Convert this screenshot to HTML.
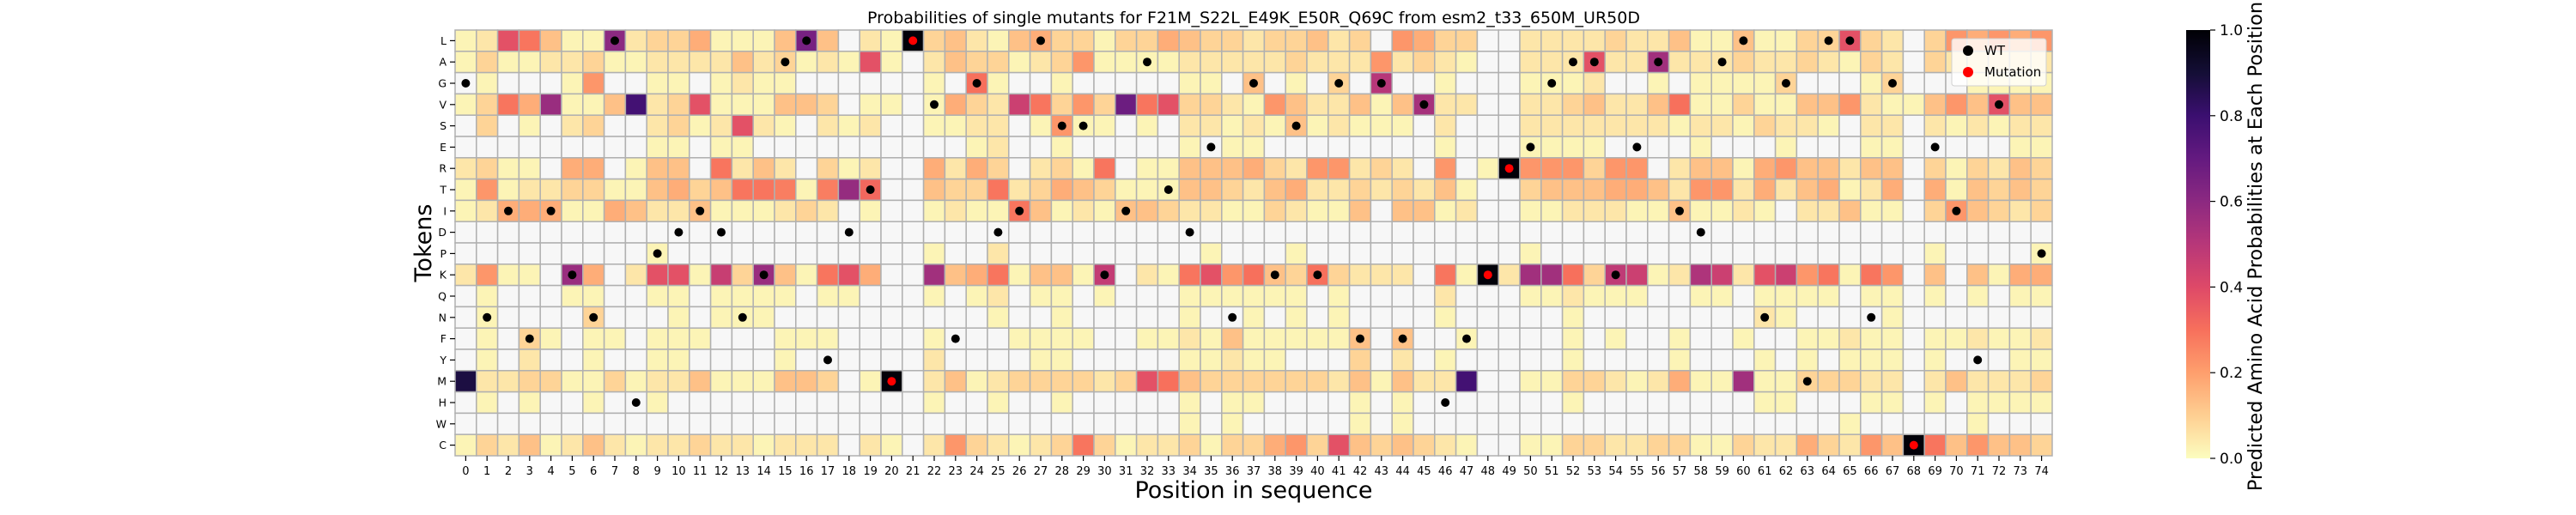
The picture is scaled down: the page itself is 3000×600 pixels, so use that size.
<!DOCTYPE html>
<html><head><meta charset="utf-8"><style>
html,body{margin:0;padding:0;background:#fff;}
svg{display:block;font-family:"DejaVu Sans","Liberation Sans",sans-serif;}
</style></head><body>
<svg id="chart" width="3000" height="600" viewBox="0 0 3000 600" xmlns="http://www.w3.org/2000/svg">
<rect x="0" y="0" width="3000" height="600" fill="#fff"/>
<text x="1460" y="27" text-anchor="middle" font-size="19" fill="#000">Probabilities of single mutants for F21M_S22L_E49K_E50R_Q69C from esm2_t33_650M_UR50D</text>
<g id="cells"></g>
<g id="dots"></g>
<g id="xaxis"></g>
<g id="yaxis"></g>
<text x="1460" y="580" text-anchor="middle" font-size="27" fill="#000">Position in sequence</text>
<text transform="translate(502,283) rotate(-90)" text-anchor="middle" font-size="27" fill="#000">Tokens</text>
<defs><linearGradient id="cmap" x1="0" y1="1" x2="0" y2="0">
<stop offset="0" stop-color="#fcfdbf"/><stop offset="0.1" stop-color="#fecf92"/><stop offset="0.2" stop-color="#fe9f6d"/><stop offset="0.3" stop-color="#f7705c"/><stop offset="0.4" stop-color="#de4968"/><stop offset="0.5" stop-color="#b73779"/><stop offset="0.6" stop-color="#8c2981"/><stop offset="0.7" stop-color="#641a80"/><stop offset="0.8" stop-color="#3b0f70"/><stop offset="0.9" stop-color="#140e36"/><stop offset="1" stop-color="#000004"/>
</linearGradient></defs>
<rect x="2546" y="35" width="28" height="499" fill="url(#cmap)"/>
<g id="cbticks"></g>
<text transform="translate(2634,287) rotate(-90)" text-anchor="middle" font-size="22.5" fill="#000">Predicted Amino Acid Probabilities at Each Position</text>
<g>
<rect x="2273" y="45" width="110" height="55" rx="3" fill="#fff" fill-opacity="0.8" stroke="#d0d0d0"/>
<circle cx="2292" cy="59" r="6" fill="#000"/>
<text x="2311" y="64" font-size="15" fill="#000">WT</text>
<circle cx="2292" cy="84" r="6" fill="#f00"/>
<text x="2311" y="89" font-size="15" fill="#000">Mutation</text>
</g>
</svg>
<script>
const tokens = ["L","A","G","V","S","E","R","T","I","D","P","K","Q","N","F","Y","M","H","W","C"];
const n = null;
const rowL = [.02,.05,.38,.29,.13,.02,.02,.6,.05,.09,.09,.17,.02,.02,.02,.13,.65,.13,n,.05,.02,.99,.09,.13,.05, .02,.13,.17,.09,.09,.02,.09,.09,.17,.13,.09,.09,.05,.09,.09,.13,.05,.09,n,.22,.17,.09,.09,n,n, .05,.05,.05,.05,.09,.05,.05,.13,.02,.02,.13,.02,.02,.09,.09,.38,.09,.05,n,.09,.22,.17,.22,.17,.22];
const rowA = [.02,.09,.02,.02,.05,.05,.09,.02,.02,.05,.05,.05,.05,.13,.05,.09,.02,.05,.02,.38,.02,n,.05,.13,.09, .09,.02,.05,.09,.22,.02,.02,.02,.02,.05,.05,.05,.05,.05,.09,.05,.05,.05,.22,.05,.09,.05,.02,n,n, .05,.05,.05,.38,.05,.05,.55,.05,.05,.05,.09,.05,.05,.09,.05,.02,.09,.05,n,.09,.05,.05,.05,.05,.05];
const rowG = [n,.02,n,n,n,.02,.22,n,n,.02,.02,n,.02,.05,.02,.02,n,n,n,n,n,n,.02,n,.3, .02,n,n,.02,n,n,n,n,n,.02,.02,n,.13,n,.02,n,.09,n,.5,n,n,.02,n,n,n, .02,.02,.02,.05,n,n,.02,n,.02,.02,.02,.02,.09,n,n,n,.02,.09,n,n,n,.02,.02,.02,.02];
const rowV = [.02,.09,.29,.17,.57,.02,.02,.13,.78,.05,.09,.38,.02,.02,.02,.13,.13,.09,n,.02,.02,n,.02,.17,.09, .05,.45,.29,.09,.22,.09,.68,.29,.38,.09,.09,.05,.02,.22,.13,.05,.05,.13,.02,.13,.54,.05,.05,n,n, .05,.05,.09,.13,.05,.05,.13,.3,.02,.02,.09,.02,.02,.13,.13,.22,.05,.02,.02,.13,.22,.13,.38,.13,.13];
const rowS = [n,.09,n,.02,n,.05,.09,n,n,.05,.09,.02,.05,.38,.05,.02,n,.05,.02,.05,n,n,.02,.02,.05, .05,n,.02,.22,.02,.02,n,.02,n,.05,.05,.02,.05,.02,.13,.02,.05,.02,.02,.02,n,.05,n,n,n, .05,.05,.05,.05,.05,.05,.05,.02,.05,.05,.02,.09,.05,.05,.02,n,.05,.05,n,.05,.02,.05,.02,.05,.05];
const rowE = [n,n,n,n,n,n,n,n,n,.02,.02,n,.02,.02,n,n,n,n,n,n,n,n,n,n,.02, .05,n,n,.02,n,n,n,n,n,.02,n,.02,.02,n,n,n,n,n,n,n,n,.02,n,n,n, .02,.02,.02,.02,n,n,n,n,.02,n,n,n,.02,n,n,n,.02,.02,n,n,n,n,n,.02,.02];
const rowR = [.05,.09,.02,.02,n,.17,.17,n,.02,.13,.13,n,.29,.05,.13,.05,n,.09,.02,.05,n,n,.17,.05,.17, .09,n,.05,.09,.02,.29,n,.02,.02,.13,.13,.13,.17,.09,.05,.22,.22,.05,.09,.05,n,.22,n,.02,.99, .22,.22,.22,.09,.22,.22,n,.05,.13,.13,.02,.17,.22,.13,.13,.05,.13,.13,n,.09,.02,.09,.05,.13,.09];
const rowT = [.02,.22,.02,.05,.05,.09,.09,.02,.02,.13,.17,.09,.13,.29,.29,.27,.02,.27,.58,.32,n,n,.13,.09,.09, .29,.05,.09,.17,.13,.09,.02,.02,.02,.13,.13,.09,.05,.13,.17,.05,.05,.09,.05,.09,.05,.13,.02,n,n, .09,.13,.13,.13,.17,.17,.13,.05,.22,.22,.05,.17,.05,.13,.17,.02,.05,.17,n,.17,.02,.13,.09,.13,.09];
const rowI = [.02,.05,.17,.17,.17,.02,.02,.17,.13,.05,.05,.13,.02,.02,.02,.05,.09,.05,n,.02,n,n,.02,.05,.02, .02,.29,.13,.02,.05,.02,.13,.13,.09,.05,.05,.02,.02,.09,.05,.02,.02,.13,n,.13,.13,.02,.05,n,n, .02,.02,.05,.05,.05,.02,.02,.13,.02,.02,.05,.02,n,.05,.05,.13,.02,.02,n,.09,.22,.13,.09,.05,.09];
const rowD = [n,n,n,n,n,n,n,n,n,n,n,n,n,n,n,n,n,n,n,n,n,n,n,n,n, n,n,n,n,n,n,n,n,n,n,n,n,n,n,n,n,n,n,n,n,n,n,n,n,n, n,n,n,n,n,n,n,n,n,n,n,n,n,n,n,n,n,n,n,n,n,n,n,n,n];
const rowP = [n,n,n,n,n,n,n,n,n,.02,n,n,n,n,n,n,n,n,n,n,n,n,.02,n,n, .05,n,n,n,n,n,n,n,n,n,.02,n,n,n,.02,n,n,n,n,n,n,n,n,n,n, .02,n,n,n,n,n,n,n,n,n,n,n,n,n,n,n,n,n,n,.02,n,n,n,n,.02];
const rowK = [.05,.22,.02,.02,n,.57,.17,n,.05,.38,.38,.02,.46,.09,.57,.13,.02,.29,.38,.17,n,n,.55,.13,.17, .29,.02,.13,.13,.02,.47,n,.05,.02,.29,.38,.22,.3,.13,.09,.3,.09,.05,.05,.05,n,.29,.02,.99,.05, .55,.55,.3,.09,.48,.45,.02,.05,.52,.45,.05,.38,.45,.22,.29,.02,.29,.22,n,.13,n,.13,.02,.17,.17];
const rowQ = [n,.02,n,n,n,.02,.02,n,n,.02,.02,n,.02,.02,.02,.02,n,.02,.02,n,n,n,.02,n,.02, .05,n,.02,.02,n,.02,n,n,n,.02,.02,.02,.02,.02,.02,n,.02,n,n,n,n,.05,n,n,n, .02,.02,.05,.02,.02,.02,n,n,.02,.02,n,.02,.02,.02,.02,n,.02,.02,n,.02,n,.02,n,.02,.02];
const rowN = [n,.02,n,n,n,n,.09,n,n,n,.02,n,.02,.02,.02,n,n,n,n,n,n,n,n,n,n, .02,n,n,.02,n,n,n,n,n,.02,n,n,.02,n,.02,n,.02,n,n,n,n,.02,n,n,n, n,n,.02,n,n,n,n,n,n,n,n,.05,.02,n,n,n,n,.02,n,n,n,n,n,n,n];
const rowF = [n,.02,n,.09,.02,n,.02,.02,n,.02,.02,.02,n,n,n,.02,.02,.02,n,n,n,n,.02,n,n, n,.02,.02,.02,.02,n,n,.02,.02,.05,.02,.13,.02,.02,.02,.02,.02,.13,n,.13,n,n,.02,n,n, n,n,.02,n,.02,n,n,.02,n,n,.02,n,n,.02,.02,.05,.02,.02,n,.02,.02,.05,.02,.02,.05];
const rowY = [n,.02,n,.05,n,n,.02,n,n,.02,.02,n,n,n,n,.02,n,n,n,n,n,n,.05,n,n, n,n,.02,.02,n,n,n,n,n,.02,.02,.05,.02,.02,n,n,n,.09,n,.05,n,.02,n,n,n, n,n,.02,n,n,n,n,.02,n,n,n,.02,n,.02,n,.02,.02,.02,n,.02,n,n,n,.02,.02];
const rowM = [.88,.05,.05,.09,.09,.02,.02,.09,.02,.05,.05,.13,.02,.02,.02,.13,.13,.09,n,.02,.99,n,.05,.13,.02, .05,.09,.09,.09,.09,.05,.09,.38,.3,.13,.09,.09,.09,.09,.09,.09,.05,.13,.02,.13,.05,.05,.78,n,n, .02,.02,.09,.09,.05,.02,.05,.17,.02,.02,.55,.02,.02,.09,.09,.09,.05,.05,n,.05,.13,.05,.05,.05,.09];
const rowH = [n,.02,n,.02,n,n,.02,n,n,.02,n,n,n,n,n,n,n,n,n,n,n,n,.02,n,n, .02,n,n,.02,n,n,n,n,n,.02,n,.02,.02,n,n,n,n,.02,n,.02,n,n,n,n,n, n,n,.02,n,n,n,n,n,n,n,n,.02,.02,n,n,n,.02,.02,n,.02,n,.02,.02,.02,.02];
const rowW = [n,n,n,n,n,n,n,n,n,n,n,n,n,n,n,n,n,n,n,n,n,n,n,n,n, n,n,n,n,n,n,n,n,n,.02,n,.02,n,n,n,n,n,.02,n,.02,n,n,n,n,n, n,n,n,n,n,n,n,n,n,n,n,n,n,n,n,.02,n,n,n,n,n,.02,n,n,n];
const rowC = [.02,.09,.05,.13,.02,.05,.13,.05,.02,.05,.05,.09,.05,.05,.02,.05,.05,.05,n,.05,.02,n,.05,.22,.09, .05,.02,.05,.09,.29,.09,.02,.05,.05,.09,.02,.09,.09,.17,.22,.09,.38,.13,.09,.13,.09,.05,.02,n,n, .02,.02,.09,.09,.05,.05,.09,.09,.02,.02,.09,.05,.05,.17,.09,.05,.22,.13,.99,.29,.13,.22,.13,.13,.09];
const values = [rowL,rowA,rowG,rowV,rowS,rowE,rowR,rowT,rowI,rowD,rowP,rowK,rowQ,rowN,rowF,rowY,rowM,rowH,rowW,rowC];
const wtTokens = ["G","N","I","F","I","K","N","L","H","P","D","I","D","N","K","A","L","Y","D","T",null,null,"V","F","G","D","I","L","S","S","K","I","A","T","D","E","N","G","K","S","K","G","F","G","F","V","H","F",null,null,"E","G","A","A","K","E","A","I","D","A","L","N","G","M","L","L","N","G",null,"E","I","Y","V",null,"P"];
const mutPositions = [20,21,48,49,68];
const mutTokens = ["M","L","K","R","C"];
const cbTicks = [0,0.2,0.4,0.6,0.8,1.0];
const cbTickLabels = ["0.0","0.2","0.4","0.6","0.8","1.0"];

const NS="http://www.w3.org/2000/svg";
const X0=530, CW=24.8, Y0=35, RH=24.8, CB_TOP=35, CB_H=499;
function xScale(i){return X0+i*CW;}
function yScale(r){return Y0+r*RH;}
function cbScale(v){return CB_TOP+CB_H*(1-v);}
const stops=[[0,[252,253,191]],[0.1,[254,207,146]],[0.2,[254,159,109]],[0.3,[247,112,92]],[0.4,[222,73,104]],[0.5,[183,55,121]],[0.6,[140,41,129]],[0.7,[100,26,128]],[0.8,[59,15,112]],[0.9,[20,14,54]],[1,[0,0,4]]];
function cmap(v){
  v=Math.max(0,Math.min(1,v));
  for(let i=1;i<stops.length;i++){
    if(v<=stops[i][0]){const a=stops[i-1],b=stops[i];const t=(v-a[0])/(b[0]-a[0]);
      const c=a[1].map((x,k)=>Math.round(x+(b[1][k]-x)*t));return "rgb("+c.join(",")+")";}
  }
  return "rgb(0,0,4)";
}
function mk(tag,attrs){const e=document.createElementNS(NS,tag);for(const k in attrs)e.setAttribute(k,attrs[k]);return e;}
const gc=document.getElementById("cells");
values.forEach((row,r)=>{row.forEach((v,c)=>{
  const rect=mk("rect",{x:xScale(c),y:yScale(r),width:CW,height:RH,fill:v===null?"#f7f7f7":cmap(v),stroke:"#b0b0b0","stroke-width":1.5});
  
  
  gc.appendChild(rect);
});});
const gd=document.getElementById("dots");
wtTokens.forEach((t,c)=>{ if(t===null) return;
  const r=tokens.indexOf(t);
  const d=mk("circle",{cx:xScale(c)+CW/2,cy:yScale(r)+RH/2,r:5,fill:"#000"});
  
  
  gd.appendChild(d);
});
mutPositions.forEach((c,i)=>{
  const r=tokens.indexOf(mutTokens[i]);
  const d=mk("circle",{cx:xScale(c)+CW/2,cy:yScale(r)+RH/2,r:5,fill:"#f00"});
  
  
  gd.appendChild(d);
});
const gx=document.getElementById("xaxis");
for(let c=0;c<75;c++){
  const cx=xScale(c)+CW/2;
  const tk=mk("line",{x1:cx,y1:Y0+20*RH,x2:cx,y2:Y0+20*RH+6,stroke:"#000","stroke-width":1.2});
  
  
  gx.appendChild(tk);
  const tx=mk("text",{x:cx,y:553,"text-anchor":"middle","font-size":13,fill:"#000"});
  tx.textContent=String(c);
  
  
  gx.appendChild(tx);
}
const gy=document.getElementById("yaxis");
tokens.forEach((t,r)=>{
  const cy=yScale(r)+RH/2;
  const tk=mk("line",{x1:X0-6,y1:cy,x2:X0,y2:cy,stroke:"#000","stroke-width":1.2});
  
  
  gy.appendChild(tk);
  const tx=mk("text",{x:X0-10,y:cy+4.5,"text-anchor":"end","font-size":12.5,fill:"#000"});
  tx.textContent=t;
  
  
  gy.appendChild(tx);
});
const gcb=document.getElementById("cbticks");
cbTicks.forEach((v,i)=>{
  const y=cbScale(v);
  const tk=mk("line",{x1:2574,y1:y,x2:2580,y2:y,stroke:"#000","stroke-width":1.2});
  
  
  gcb.appendChild(tk);
  const tx=mk("text",{x:2585,y:y+6,"font-size":17,fill:"#000"});
  tx.textContent=cbTickLabels[i];
  
  
  gcb.appendChild(tx);
});
</script>
</body></html>
